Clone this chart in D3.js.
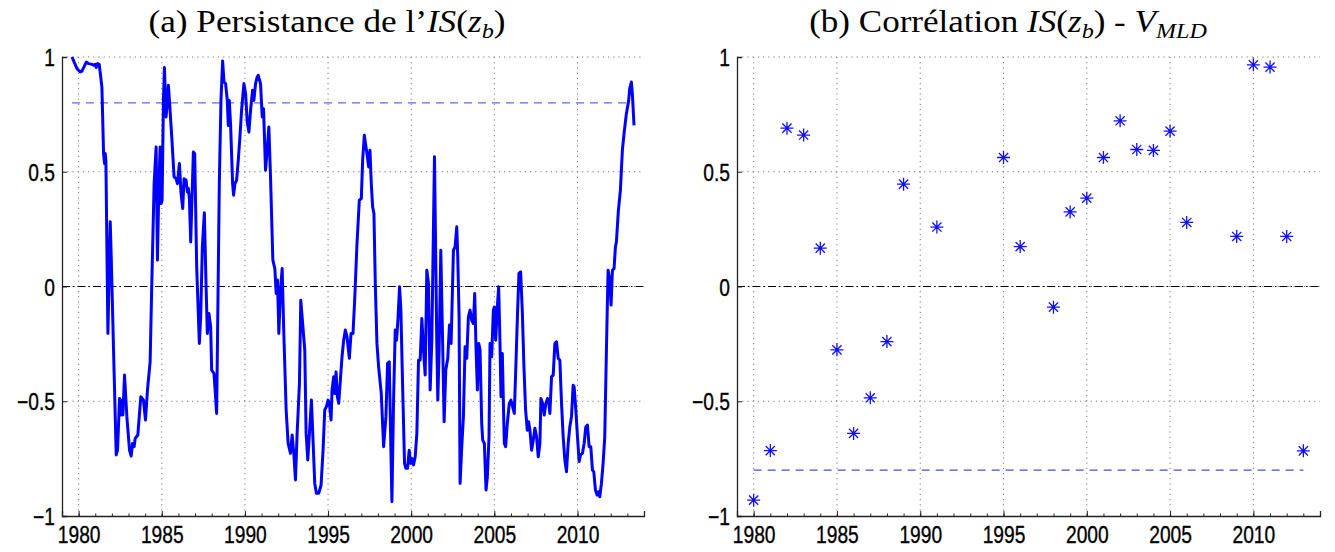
<!DOCTYPE html>
<html>
<head>
<meta charset="utf-8">
<script src="https://cdn.jsdelivr.net/npm/d3@7"></script>
<style>
  body { margin: 0; background: #fff; }
  svg { display: block; }
  .tick-label { font-family: "Liberation Sans", Arial, sans-serif; font-size: 24px; fill: #000; stroke: #000; stroke-width: 0.35px; }
  .title { font-family: "Liberation Serif", "Times New Roman", serif; font-size: 32px; fill: #000; }
</style>
</head>
<body>
<svg id="chart" width="1335" height="552"></svg>
<script>
// persistence of IS(z_b)
const persistYears = [
  1979.60, 1979.90, 1980.10, 1980.20, 1980.46, 1980.60, 1980.80, 1980.90, 1981.00, 1981.06,
  1981.14, 1981.24, 1981.40, 1981.50, 1981.56, 1981.60, 1981.64, 1981.76, 1981.90, 1981.96,
  1982.10, 1982.26, 1982.34, 1982.46, 1982.54, 1982.62, 1982.66, 1982.76, 1982.90, 1983.06,
  1983.16, 1983.24, 1983.34, 1983.40, 1983.56, 1983.74, 1983.90, 1984.02, 1984.14, 1984.30,
  1984.40, 1984.54, 1984.66, 1984.74, 1984.82, 1984.90, 1984.96, 1985.02, 1985.10, 1985.16,
  1985.26, 1985.34, 1985.40, 1985.46, 1985.60, 1985.74, 1985.86, 1985.94, 1986.06, 1986.16,
  1986.26, 1986.34, 1986.46, 1986.54, 1986.60, 1986.66, 1986.74, 1986.90, 1986.98, 1987.10,
  1987.26, 1987.34, 1987.44, 1987.56, 1987.66, 1987.74, 1987.84, 1987.94, 1988.00, 1988.14,
  1988.30, 1988.46, 1988.56, 1988.66, 1988.74, 1988.84, 1988.94, 1989.00, 1989.06, 1989.14,
  1989.26, 1989.32, 1989.40, 1989.50, 1989.60, 1989.70, 1989.80, 1989.94, 1990.04, 1990.14,
  1990.24, 1990.34, 1990.46, 1990.54, 1990.64, 1990.74, 1990.80, 1990.94, 1991.04, 1991.12,
  1991.24, 1991.34, 1991.44, 1991.54, 1991.68, 1991.80, 1991.88, 1991.96, 1992.04, 1992.14,
  1992.24, 1992.34, 1992.48, 1992.60, 1992.74, 1992.84, 1992.94, 1993.04, 1993.14, 1993.28,
  1993.36, 1993.44, 1993.60, 1993.68, 1993.78, 1993.88, 1994.00, 1994.08, 1994.20, 1994.30,
  1994.44, 1994.58, 1994.70, 1994.80, 1994.90, 1995.00, 1995.08, 1995.18, 1995.24, 1995.34,
  1995.40, 1995.48, 1995.56, 1995.64, 1995.74, 1995.84, 1995.94, 1996.04, 1996.14, 1996.28,
  1996.38, 1996.50, 1996.60, 1996.74, 1996.88, 1997.00, 1997.08, 1997.18, 1997.34, 1997.44,
  1997.52, 1997.60, 1997.68, 1997.76, 1997.84, 1997.94, 1998.04, 1998.20, 1998.34, 1998.48,
  1998.58, 1998.68, 1998.76, 1998.84, 1998.94, 1999.04, 1999.12, 1999.20, 1999.30, 1999.38,
  1999.48, 1999.60, 1999.68, 1999.78, 1999.88, 1999.96, 2000.04, 2000.14, 2000.24, 2000.34,
  2000.44, 2000.54, 2000.64, 2000.74, 2000.84, 2000.94, 2001.04, 2001.14, 2001.24, 2001.40,
  2001.54, 2001.60, 2001.68, 2001.78, 2001.88, 2001.98, 2002.08, 2002.20, 2002.30, 2002.40,
  2002.54, 2002.64, 2002.74, 2002.80, 2002.88, 2002.94, 2003.04, 2003.14, 2003.24, 2003.34,
  2003.44, 2003.54, 2003.64, 2003.74, 2003.82, 2003.90, 2003.98, 2004.06, 2004.14, 2004.24,
  2004.30, 2004.40, 2004.50, 2004.58, 2004.68, 2004.74, 2004.84, 2004.94, 2005.00, 2005.08,
  2005.18, 2005.26, 2005.34, 2005.40, 2005.48, 2005.54, 2005.60, 2005.68, 2005.78, 2005.90,
  2006.00, 2006.10, 2006.20, 2006.28, 2006.40, 2006.48, 2006.58, 2006.68, 2006.78, 2006.88,
  2006.98, 2007.06, 2007.14, 2007.24, 2007.34, 2007.44, 2007.54, 2007.64, 2007.74, 2007.80,
  2007.90, 2008.00, 2008.10, 2008.20, 2008.28, 2008.34, 2008.44, 2008.54, 2008.64, 2008.74,
  2008.84, 2008.94, 2009.04, 2009.14, 2009.24, 2009.34, 2009.44, 2009.54, 2009.64, 2009.74,
  2009.80, 2009.90, 2010.00, 2010.10, 2010.18, 2010.30, 2010.40, 2010.50, 2010.60, 2010.70,
  2010.80, 2010.90, 2010.98, 2011.08, 2011.18, 2011.28, 2011.34, 2011.44, 2011.54, 2011.64,
  2011.74, 2011.84, 2011.94, 2012.02, 2012.10, 2012.20, 2012.28, 2012.34, 2012.46, 2012.58,
  2012.70, 2012.80, 2012.94, 2013.08, 2013.14, 2013.24, 2013.30, 2013.40
]
const persistValues = [
  1.000, 0.949, 0.935, 0.938, 0.978, 0.971, 0.968, 0.964, 0.968, 0.954,
  0.971, 0.968, 0.869, 0.579, 0.536, 0.579, 0.550, -0.205, 0.282, 0.129,
  -0.277, -0.734, -0.713, -0.488, -0.560, -0.495, -0.560, -0.386, -0.567, -0.713,
  -0.739, -0.684, -0.698, -0.662, -0.647, -0.480, -0.495, -0.582, -0.451, -0.328,
  0.013, 0.448, 0.608, 0.115, 0.419, 0.608, 0.361, 0.376, 0.811, 0.954,
  0.739, 0.811, 0.877, 0.811, 0.652, 0.478, 0.470, 0.448, 0.536, 0.405,
  0.340, 0.470, 0.463, 0.412, 0.427, 0.383, 0.194, 0.586, 0.579, 0.086,
  -0.248, -0.132, 0.173, 0.321, 0.013, -0.205, -0.118, -0.176, -0.364, -0.379,
  -0.553, 0.448, 0.811, 0.983, 0.891, 0.884, 0.811, 0.702, 0.811, 0.702,
  0.448, 0.398, 0.448, 0.463, 0.550, 0.652, 0.768, 0.884, 0.840, 0.717,
  0.673, 0.768, 0.855, 0.811, 0.884, 0.913, 0.920, 0.884, 0.739, 0.775,
  0.507, 0.594, 0.695, 0.478, 0.115, 0.078, -0.030, 0.028, -0.205, -0.016,
  0.078, -0.205, -0.538, -0.684, -0.727, -0.647, -0.727, -0.843, -0.640, -0.422,
  -0.060, -0.132, -0.277, -0.640, -0.756, -0.640, -0.495, -0.640, -0.858, -0.901,
  -0.901, -0.865, -0.713, -0.538, -0.524, -0.495, -0.509, -0.582, -0.451, -0.393,
  -0.466, -0.372, -0.480, -0.509, -0.408, -0.306, -0.234, -0.190, -0.219, -0.313,
  -0.205, -0.205, -0.060, 0.187, 0.376, 0.383, 0.550, 0.659, 0.579, 0.521,
  0.594, 0.448, 0.347, 0.318, 0.013, -0.248, -0.350, -0.466, -0.698, -0.567,
  -0.335, -0.328, -0.640, -0.938, -0.495, -0.190, -0.234, -0.147, -0.001, -0.103,
  -0.422, -0.771, -0.792, -0.792, -0.713, -0.771, -0.749, -0.778, -0.742, -0.640,
  -0.321, -0.321, -0.139, -0.277, -0.386, 0.071, 0.013, -0.451, -0.234, 0.565,
  -0.248, -0.495, -0.277, 0.158, -0.205, -0.589, -0.364, -0.313, -0.168, -0.248,
  0.158, 0.173, 0.260, 0.129, -0.132, -0.858, -0.698, -0.567, -0.263, -0.313,
  -0.132, -0.103, -0.147, -0.161, -0.030, -0.277, -0.451, -0.248, -0.277, -0.597,
  -0.669, -0.684, -0.887, -0.829, -0.655, -0.248, -0.306, -0.103, -0.089, -0.234,
  -0.089, -0.001, -0.248, -0.480, -0.292, -0.495, -0.684, -0.698, -0.597, -0.509,
  -0.495, -0.524, -0.553, -0.379, -0.103, 0.057, 0.064, -0.103, -0.350, -0.538,
  -0.626, -0.589, -0.626, -0.713, -0.669, -0.618, -0.655, -0.742, -0.684, -0.488,
  -0.509, -0.560, -0.509, -0.488, -0.509, -0.553, -0.393, -0.386, -0.248, -0.241,
  -0.313, -0.321, -0.509, -0.655, -0.756, -0.807, -0.684, -0.611, -0.567, -0.430,
  -0.437, -0.538, -0.655, -0.763, -0.734, -0.727, -0.684, -0.611, -0.604, -0.698,
  -0.698, -0.800, -0.807, -0.887, -0.909, -0.894, -0.916, -0.858, -0.771, -0.655,
  -0.277, 0.071, 0.028, -0.081, 0.071, 0.078, 0.173, 0.194, 0.332, 0.419,
  0.594, 0.666, 0.753, 0.811, 0.862, 0.891, 0.840, 0.702
]

// yearly correlation IS(z_b) - V_MLD
const corrYears = [1980, 1981, 1982, 1983, 1984, 1985, 1986, 1987, 1988, 1989, 1991, 1995, 1996, 1998,
  1999, 2000, 2001, 2002, 2003, 2004, 2005, 2006, 2009, 2010, 2011, 2012, 2013]
const corrValues = [-0.931, -0.715, 0.690, 0.660, 0.167, -0.276, -0.640, -0.485, -0.240, 0.446, 0.259, 0.562, 0.174, -0.090,
  0.325, 0.385, 0.562, 0.722, 0.597, 0.593, 0.677, 0.279, 0.218, 0.966, 0.956, 0.218, -0.716]

const yearTicks = [1980, 1985, 1990, 1995, 2000, 2005, 2010]
const valueTicks = [-1, -0.5, 0, 0.5, 1]
const persistThreshold = 0.8
const corrThreshold = -0.8

const svg = d3.select("#chart")
svg.append("rect").attr("width", 1335).attr("height", 552).attr("fill", "#fff")

const plotTop = 57, plotBottom = 516

const drawPanel = (left, right, title) => {
  const x = d3.scaleLinear().domain([1979, 2014]).range([left, right])
  const y = d3.scaleLinear().domain([-1, 1]).range([plotBottom, plotTop])
  const g = svg.append("g")

  // dotted grid
  g.append("g").selectAll("line").data(yearTicks).enter().append("line")
    .attr("x1", d => x(d)).attr("x2", d => x(d))
    .attr("y1", plotTop).attr("y2", plotBottom)
    .attr("stroke", "#777").attr("stroke-width", 1).attr("stroke-dasharray", "1.2,4")
  g.append("g").selectAll("line").data(valueTicks.filter(v => v > -1)).enter().append("line")
    .attr("x1", left).attr("x2", right)
    .attr("y1", d => y(d)).attr("y2", d => y(d))
    .attr("stroke", "#777").attr("stroke-width", 1).attr("stroke-dasharray", "1.2,4")

  // zero line, dash-dot
  g.append("line")
    .attr("x1", left).attr("x2", right).attr("y1", y(0)).attr("y2", y(0))
    .attr("stroke", "#000").attr("stroke-width", 1).attr("stroke-dasharray", "8,3,1.5,3")

  // axes, ticks point inward like matlab
  const xAxis = g.append("g").attr("transform", `translate(0,${plotBottom})`)
    .call(d3.axisBottom(x).tickValues(yearTicks).tickSize(-5).tickFormat(d3.format("d")))
  xAxis.selectAll("text")
    .attr("class", "tick-label").attr("y", 27).attr("dy", null)
    .attr("transform", "scale(0.8,1)")
  const minor = g.append("g").attr("transform", `translate(0,${plotBottom})`)
    .call(d3.axisBottom(x).tickValues(d3.range(1979, 2015)).tickSize(-2.5).tickFormat(""))
  minor.select(".domain").remove()

  const yAxis = g.append("g").attr("transform", `translate(${left},0)`)
    .call(d3.axisLeft(y).tickValues(valueTicks).tickSize(-5)
      .tickFormat(d => String(d).replace("-", "\u2212")))
  yAxis.selectAll("text")
    .attr("class", "tick-label").attr("x", -7 / 0.8).attr("dy", "0.36em")
    .attr("transform", "scale(0.8,1)")

  g.selectAll(".domain").attr("stroke", "#222").attr("stroke-width", 1.3)
  g.selectAll(".tick line").attr("stroke", "#222")

  // title with the math bits in italics, stretched to the reference width
  const t = svg.append("text").attr("class", "title")
    .attr("x", title.cx).attr("y", 32).attr("text-anchor", "middle")
  title.parts.forEach(p => {
    const s = t.append("tspan").text(p.text)
    if (p.italic) s.attr("font-style", "italic")
    if (p.sub) s.attr("font-size", "22px").attr("dy", 6)
    if (p.up) s.attr("dy", -6)
  })
  const w = t.node().getBBox().width
  const k = title.width / w
  t.attr("transform", `translate(${title.cx},0) scale(${k},1) translate(${-title.cx},0)`)

  return { g, x, y }
}

// (a) persistence line
const a = drawPanel(62, 644, {
  cx: 327, width: 357,
  parts: [
    { text: "(a) Persistance de l\u2019" }, { text: "IS", italic: true }, { text: "(" },
    { text: "z", italic: true }, { text: "b", italic: true, sub: true }, { text: ")", up: true }
  ]
})
a.g.append("line")
  .attr("x1", a.x(persistYears[0])).attr("x2", a.x(persistYears[persistYears.length - 1]))
  .attr("y1", a.y(persistThreshold)).attr("y2", a.y(persistThreshold))
  .attr("stroke", "#3a3aff").attr("stroke-width", 1).attr("stroke-dasharray", "8,6")

const line = d3.line().x((d, i) => a.x(persistYears[i])).y(d => a.y(d))
a.g.append("path")
  .datum(persistValues)
  .attr("d", line)
  .attr("fill", "none")
  .attr("stroke", "#0000ff")
  .attr("stroke-width", 3)
  .attr("stroke-linejoin", "round")

// (b) correlation stars
const b = drawPanel(737, 1320, {
  cx: 1008, width: 398,
  parts: [
    { text: "(b) Corr\u00e9lation " }, { text: "IS", italic: true }, { text: "(" },
    { text: "z", italic: true }, { text: "b", italic: true, sub: true }, { text: ")", up: true },
    { text: " - " }, { text: "V", italic: true }, { text: "MLD", italic: true, sub: true }
  ]
})
b.g.append("line")
  .attr("x1", b.x(corrYears[0])).attr("x2", b.x(corrYears[corrYears.length - 1]))
  .attr("y1", b.y(corrThreshold)).attr("y2", b.y(corrThreshold))
  .attr("stroke", "#1a1aee").attr("stroke-width", 1).attr("stroke-dasharray", "8,6")

const star = "M0,-6.5V6.5M-6.5,0H6.5M-4.6,-4.6L4.6,4.6M-4.6,4.6L4.6,-4.6"
b.g.append("g").selectAll("path")
  .data(corrValues)
  .enter().append("path")
    .attr("transform", (d, i) => `translate(${b.x(corrYears[i])},${b.y(d)})`)
    .attr("d", star)
    .attr("fill", "none")
    .attr("stroke", "#1010ff")
    .attr("stroke-width", 1.3)
</script>
</body>
</html>
